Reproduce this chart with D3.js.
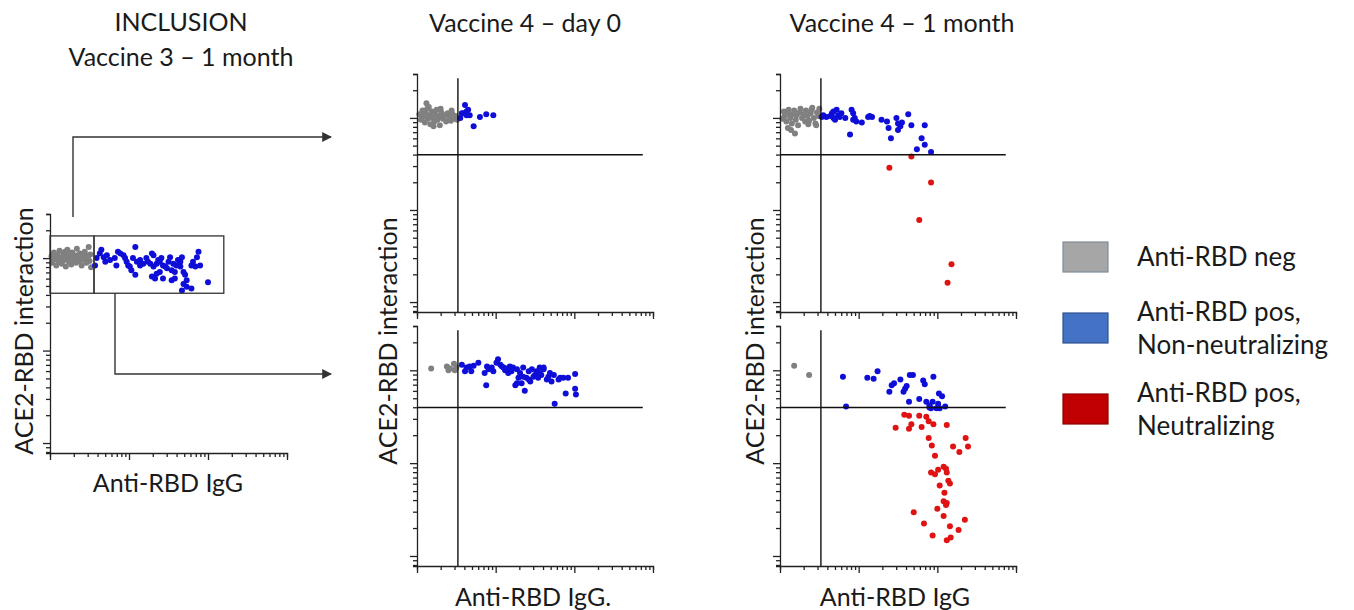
<!DOCTYPE html>
<html>
<head>
<meta charset="utf-8">
<script src="https://cdn.jsdelivr.net/npm/d3@7"></script>
<style>
  body { margin: 0; background: #fff; }
  text { font-family: Lato, "Open Sans", sans-serif; fill: #1a1a1a; }
</style>
</head>
<body>
<div id="chart"></div>
<script>
// values as [log10 anti-RBD IgG, log10 ACE2-RBD interaction]
const xDomain = [10, 10000];
const yDomain = [7.8, 3000];

const incNeg = [[1.02,3.02],[1.03,2.95],[1.05,3.06],[1.06,2.99],[1.08,2.92],[1.09,3.04],[1.11,2.97],[1.12,3.08],[1.14,3.01],[1.15,2.94],[1.17,3.05],[1.18,2.98],[1.2,2.91],[1.21,3.03],[1.22,3.09],[1.24,2.96],[1.25,3.01],[1.27,2.93],[1.28,3.06],[1.3,2.99],[1.31,3.03],[1.33,2.95],[1.34,3.1],[1.35,3.0],[1.37,2.97],[1.38,3.05],[1.4,2.92],[1.41,3.02],[1.43,2.98],[1.44,3.07],[1.46,2.95],[1.47,3.01],[1.49,3.12],[1.5,2.97],[1.51,3.04],[1.52,2.9],[1.04,2.98],[1.1,3.0],[1.16,2.99],[1.23,3.0],[1.29,2.96],[1.36,3.03],[1.42,2.99],[1.48,3.0],[1.19,3.07],[1.26,3.04],[1.32,2.98],[1.07,3.03],[1.13,2.96],[1.28,2.97],[1.39,3.01],[1.45,3.03]];
const incPos = [[1.57,2.92],[1.59,3.0],[1.63,3.05],[1.65,3.09],[1.68,3.01],[1.7,2.96],[1.72,3.03],[1.76,2.98],[1.82,3.0],[1.84,2.92],[1.86,3.07],[1.89,3.05],[1.93,3.03],[1.95,3.0],[1.97,2.96],[1.99,2.92],[2.01,2.91],[2.03,2.87],[2.05,3.0],[2.08,3.12],[2.08,2.82],[2.1,2.96],[2.14,2.98],[2.22,3.0],[2.24,2.96],[2.27,2.94],[2.29,3.05],[2.31,3.03],[2.31,2.91],[2.33,2.78],[2.35,2.94],[2.37,2.98],[2.39,2.96],[2.41,3.0],[2.43,2.92],[2.46,2.91],[2.43,2.78],[2.48,2.89],[2.5,2.96],[2.52,3.01],[2.54,2.87],[2.56,2.94],[2.58,2.85],[2.54,2.76],[2.6,2.92],[2.62,2.98],[2.65,2.91],[2.65,2.96],[2.67,3.01],[2.69,2.85],[2.71,2.82],[2.73,2.76],[2.69,2.72],[2.73,2.69],[2.67,2.65],[2.79,2.67],[2.79,2.92],[2.81,2.96],[2.84,2.91],[2.86,3.01],[2.88,3.07],[2.9,2.92],[3.0,2.74],[2.35,2.83],[2.18,2.94],[2.14,2.92],[2.39,2.85],[2.58,2.78],[2.29,2.8]];

const d0TopNeg = [[1.12,3.16],[1.03,3.04],[1.05,2.98],[1.07,3.08],[1.08,3.01],[1.1,2.95],[1.11,3.05],[1.13,3.1],[1.14,2.99],[1.16,3.03],[1.17,2.93],[1.19,3.07],[1.2,3.0],[1.22,2.96],[1.23,3.04],[1.25,3.09],[1.26,2.98],[1.28,3.02],[1.29,2.92],[1.31,3.06],[1.33,2.99],[1.35,3.03],[1.37,2.96],[1.39,3.05],[1.41,3.0],[1.43,2.97],[1.45,3.04],[1.47,2.99],[1.49,3.02],[1.51,2.98],[1.21,2.91],[1.15,3.12],[1.3,3.1],[1.44,3.08],[1.06,3.02]];
const d0TopPos = [[1.55,3.0],[1.57,3.05],[1.61,3.14],[1.63,3.07],[1.65,3.09],[1.67,3.03],[1.63,3.03],[1.72,2.91],[1.8,3.01],[1.88,3.04],[1.97,3.03],[1.59,3.05]];
const d0BotNeg = [[1.18,3.02],[1.38,3.04],[1.4,3.0],[1.42,3.02],[1.47,3.07],[1.48,3.0],[1.5,3.03]];
const d0BotPos = [[1.57,3.06],[1.61,2.99],[1.63,3.03],[1.67,3.04],[1.69,2.99],[1.72,3.05],[1.78,3.08],[1.86,2.97],[1.88,2.84],[1.89,3.04],[1.95,3.03],[1.97,2.99],[2.01,3.08],[2.03,3.12],[2.06,3.06],[2.08,3.04],[2.12,3.0],[2.16,2.97],[2.18,3.04],[2.22,3.03],[2.25,2.84],[2.27,3.01],[2.29,2.92],[2.31,2.97],[2.33,2.86],[2.35,3.03],[2.37,2.78],[2.39,2.92],[2.42,2.99],[2.44,2.88],[2.46,3.01],[2.5,2.95],[2.52,2.99],[2.54,2.92],[2.56,2.97],[2.58,2.95],[2.61,3.01],[2.61,3.03],[2.65,2.9],[2.67,2.93],[2.69,2.97],[2.71,2.88],[2.74,2.95],[2.75,2.64],[2.8,2.9],[2.82,2.92],[2.86,2.92],[2.89,2.75],[2.92,2.92],[3.01,2.96],[3.01,2.8],[3.02,2.74],[2.1,3.03],[2.2,2.99],[2.35,2.93],[2.48,2.93],[2.56,3.03],[1.91,3.01],[2.14,3.02],[2.27,2.86],[2.42,2.9]];

const m1TopNeg = [[1.03,2.99],[1.05,3.07],[1.06,3.02],[1.08,2.96],[1.1,3.05],[1.11,3.09],[1.13,3.0],[1.15,2.94],[1.16,3.04],[1.18,3.08],[1.2,2.98],[1.21,3.03],[1.23,2.92],[1.25,3.06],[1.26,3.1],[1.28,3.0],[1.3,3.04],[1.32,2.96],[1.33,3.08],[1.35,3.02],[1.37,2.97],[1.39,3.05],[1.41,3.11],[1.43,3.0],[1.45,2.94],[1.47,3.06],[1.49,3.02],[1.5,3.1],[1.14,2.87],[1.19,2.83],[1.1,2.89],[1.36,2.93],[1.46,2.92],[1.4,3.09]];
const m1TopPos = [[1.53,3.01],[1.55,3.03],[1.64,3.02],[1.66,3.05],[1.68,3.07],[1.7,2.98],[1.72,3.09],[1.74,3.03],[1.76,3.01],[1.78,3.05],[1.83,3.0],[1.89,2.82],[1.91,3.09],[1.93,3.05],[1.95,3.0],[1.97,2.96],[2.04,2.95],[2.12,3.01],[2.14,3.02],[2.17,3.01],[2.29,2.98],[2.36,2.96],[2.38,2.89],[2.41,2.78],[2.48,3.0],[2.5,2.87],[2.5,2.94],[2.53,2.91],[2.55,2.95],[2.63,3.04],[2.67,2.92],[2.74,2.66],[2.8,2.78],[2.84,2.92],[2.84,2.71],[2.92,2.63],[1.93,2.98],[1.68,3.0],[1.59,3.01]];
const m1TopNeut = [[2.39,2.46],[2.67,2.58],[2.92,2.3],[2.77,1.89],[3.18,1.41],[3.13,1.21]];
const m1BotNeg = [[1.18,3.05],[1.37,2.95]];
const m1BotPos = [[1.8,2.93],[1.84,2.61],[2.11,2.92],[2.19,2.91],[2.24,2.99],[2.39,2.77],[2.42,2.84],[2.45,2.86],[2.53,2.9],[2.57,2.77],[2.59,2.8],[2.61,2.83],[2.64,2.66],[2.65,2.95],[2.69,2.95],[2.77,2.69],[2.82,2.89],[2.84,2.85],[2.86,2.66],[2.9,2.62],[2.92,2.59],[2.95,2.93],[2.94,2.66],[3.01,2.64],[3.02,2.75],[3.06,2.72],[3.03,2.59],[3.1,2.61],[2.9,2.6],[2.99,2.59]];
const m1BotNeut = [[2.47,2.38],[2.58,2.52],[2.64,2.51],[2.64,2.37],[2.67,2.42],[2.77,2.51],[2.8,2.39],[2.86,2.5],[2.89,2.45],[2.95,2.42],[3.12,2.41],[2.89,2.27],[2.93,2.19],[2.97,2.08],[3.2,2.18],[3.28,2.12],[3.36,2.27],[3.39,2.18],[2.92,1.9],[2.97,1.88],[3.01,1.93],[3.08,1.96],[3.11,1.94],[3.12,1.9],[3.03,1.76],[3.14,1.81],[3.16,1.78],[3.09,1.68],[3.08,1.59],[3.11,1.55],[3.12,1.57],[3.0,1.51],[2.7,1.47],[3.08,1.43],[2.83,1.35],[3.16,1.32],[3.35,1.39],[3.27,1.28],[2.94,1.22],[3.12,1.17],[3.17,1.2]];

// gates (log10 units)
const incGateNeg = [1.0, 1.557, 2.62, 3.24];
const incGatePos = [1.557, 3.2, 2.62, 3.24];
const gateIgG = 1.52;
const gateAce2 = 2.6;

const titles = ["INCLUSION", "Vaccine 3 \u2013 1 month", "Vaccine 4 \u2013 day 0", "Vaccine 4 \u2013 1 month"];
const legendLabels = [["Anti-RBD neg"], ["Anti-RBD pos,", "Non-neutralizing"], ["Anti-RBD pos,", "Neutralizing"]];
const legendColors = ["#a6a6a6", "#4472c4", "#c00000"];
const legendStrokes = ["#7f8c9a", "#2f528f", "#8b0000"];

const colNeg = "#808080", colPos = "#0e0ed8", colNeut = "#e01313";

const width = 1354, height = 610;
const svg = d3.select("#chart").append("svg")
  .attr("width", width)
  .attr("height", height);

const isMajor = d => Math.abs(Math.log10(d) - Math.round(Math.log10(d))) < 1e-6;

function drawPanel(p) {
  const x = d3.scaleLog().domain(xDomain).range([p.x0, p.x1]);
  const y = d3.scaleLog().domain(yDomain).range([p.y1, p.y0]);
  const g = svg.append("g");

  // points
  p.series.forEach(s => {
    g.append("g").selectAll("circle")
      .data(s.points)
      .join("circle")
        .attr("cx", d => x(10 ** d[0]))
        .attr("cy", d => y(10 ** d[1]))
        .attr("r", 3)
        .attr("fill", s.color);
  });

  // x-axis
  const xa = g.append("g")
    .attr("transform", `translate(0,${p.y1})`)
    .call(d3.axisBottom(x).tickFormat("").tickSizeOuter(0).tickSize(4));
  xa.selectAll(".tick line").attr("y2", d => isMajor(d) ? 7 : 4);

  // y-axis
  const ya = g.append("g")
    .attr("transform", `translate(${p.x0},0)`)
    .call(d3.axisLeft(y).tickFormat("").tickSizeOuter(0).tickSize(4));
  ya.selectAll(".tick line").attr("x2", d => isMajor(d) ? -7 : -4);

  g.selectAll(".domain, .tick line").attr("stroke", "#222").attr("stroke-width", 1.3);

  if (p.quadrant) {
    g.append("line")
      .attr("x1", x(10 ** gateIgG)).attr("x2", x(10 ** gateIgG))
      .attr("y1", y(yDomain[0])).attr("y2", y(10 ** 3.43))
      .attr("stroke", "#111").attr("stroke-width", 1.4);
    g.append("line")
      .attr("x1", x(xDomain[0])).attr("x2", x(10 ** 3.87))
      .attr("y1", y(10 ** gateAce2)).attr("y2", y(10 ** gateAce2))
      .attr("stroke", "#111").attr("stroke-width", 1.4);
  }
  if (p.gates) {
    p.gates.forEach(b => {
      g.append("rect")
        .attr("x", x(10 ** b[0]))
        .attr("y", y(10 ** b[3]))
        .attr("width", x(10 ** b[1]) - x(10 ** b[0]))
        .attr("height", y(10 ** b[2]) - y(10 ** b[3]))
        .attr("fill", "none")
        .attr("stroke", "#333")
        .attr("stroke-width", 1.3);
    });
  }
  return { x, y };
}

drawPanel({ x0: 50, x1: 287, y0: 214, y1: 453, gates: [incGateNeg, incGatePos],
  series: [{ points: incNeg, color: colNeg }, { points: incPos, color: colPos }] });
drawPanel({ x0: 417, x1: 653, y0: 74, y1: 312, quadrant: true,
  series: [{ points: d0TopNeg, color: colNeg }, { points: d0TopPos, color: colPos }] });
drawPanel({ x0: 417, x1: 653, y0: 326, y1: 566, quadrant: true,
  series: [{ points: d0BotNeg, color: colNeg }, { points: d0BotPos, color: colPos }] });
drawPanel({ x0: 780, x1: 1016, y0: 74, y1: 312, quadrant: true,
  series: [{ points: m1TopNeg, color: colNeg }, { points: m1TopPos, color: colPos }, { points: m1TopNeut, color: colNeut }] });
drawPanel({ x0: 780, x1: 1016, y0: 326, y1: 566, quadrant: true,
  series: [{ points: m1BotNeg, color: colNeg }, { points: m1BotPos, color: colPos }, { points: m1BotNeut, color: colNeut }] });

// arrows from the inclusion gates
const defs = svg.append("defs");
defs.append("marker")
  .attr("id", "arrow")
  .attr("viewBox", "0 0 10 10")
  .attr("refX", 9).attr("refY", 5)
  .attr("markerWidth", 7).attr("markerHeight", 7)
  .attr("markerUnits", "strokeWidth")
  .attr("orient", "auto")
  .append("path").attr("d", "M0,0 L10,5 L0,10 z").attr("fill", "#333");

svg.append("path")
  .attr("d", "M73,217 V137 H331")
  .attr("fill", "none").attr("stroke", "#333").attr("stroke-width", 1.4)
  .attr("marker-end", "url(#arrow)");
svg.append("path")
  .attr("d", "M115,293 V374 H331")
  .attr("fill", "none").attr("stroke", "#333").attr("stroke-width", 1.4)
  .attr("marker-end", "url(#arrow)");

// titles
svg.append("text").attr("x", 181).attr("y", 31).attr("text-anchor", "middle").style("font-size", "25px").text(titles[0]);
svg.append("text").attr("x", 181).attr("y", 66).attr("text-anchor", "middle").style("font-size", "25px").text(titles[1]);
svg.append("text").attr("x", 525).attr("y", 32).attr("text-anchor", "middle").style("font-size", "25px").text(titles[2]);
svg.append("text").attr("x", 902).attr("y", 32).attr("text-anchor", "middle").style("font-size", "25px").text(titles[3]);

// axis labels
[[33, 331], [397, 341], [764, 341]].forEach(([tx, ty]) => {
  svg.append("text")
    .attr("transform", `translate(${tx},${ty}) rotate(-90)`)
    .attr("text-anchor", "middle")
    .style("font-size", "25px")
    .text("ACE2-RBD interaction");
});
svg.append("text").attr("x", 168).attr("y", 492).attr("text-anchor", "middle").style("font-size", "25px").text("Anti-RBD IgG");
svg.append("text").attr("x", 533).attr("y", 606).attr("text-anchor", "middle").style("font-size", "25px").text("Anti-RBD IgG.");
svg.append("text").attr("x", 895).attr("y", 606).attr("text-anchor", "middle").style("font-size", "25px").text("Anti-RBD IgG");

// legend
const legendTop = [242, 313, 394];
const leg = svg.append("g").selectAll("g")
  .data(legendLabels)
  .join("g");
leg.append("rect")
  .attr("x", 1063).attr("y", (d, i) => legendTop[i])
  .attr("width", 45).attr("height", 30)
  .attr("fill", (d, i) => legendColors[i])
  .attr("stroke", (d, i) => legendStrokes[i])
  .attr("stroke-width", 1.2);
leg.selectAll("text")
  .data((d, i) => d.map((t, j) => ({ t, i, j, n: d.length })))
  .join("text")
    .attr("x", 1137)
    .attr("y", d => d.n === 1 ? 266 : legendTop[d.i] + 8 + d.j * 33)
    .style("font-size", "26px")
    .text(d => d.t);
</script>
</body>
</html>
